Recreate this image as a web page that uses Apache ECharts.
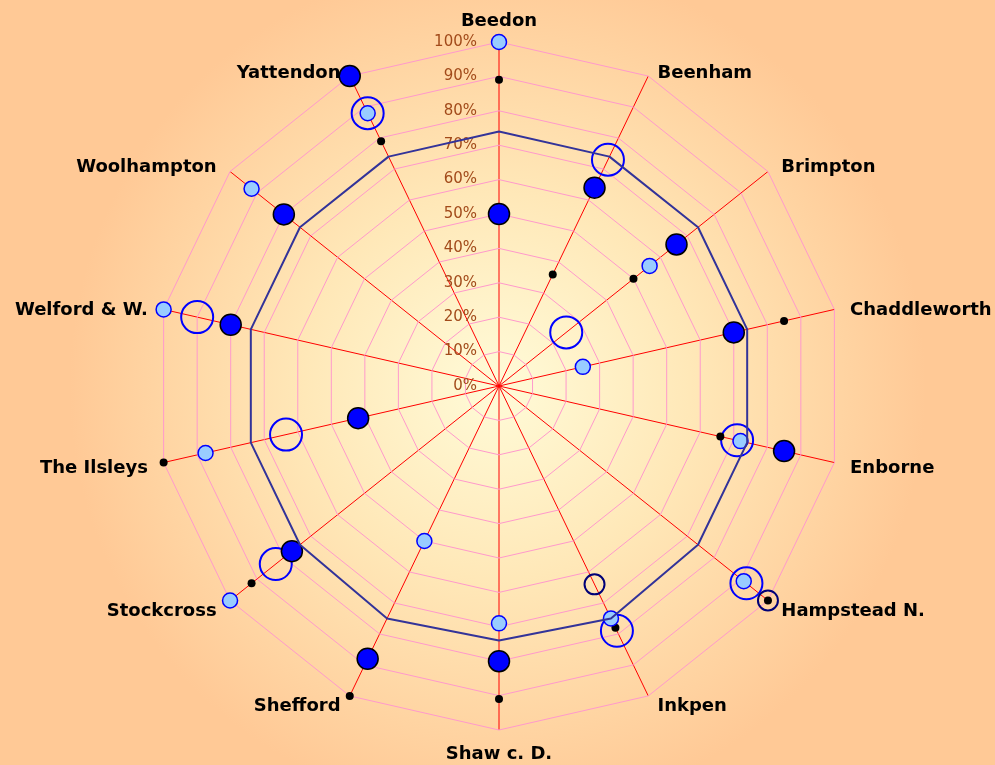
<!DOCTYPE html>
<html>
<head>
<meta charset="utf-8">
<script src="https://cdn.jsdelivr.net/npm/echarts@6/dist/echarts.min.js"></script>
<style>
  html, body { margin: 0; padding: 0; }
  #chart { width: 995px; height: 765px; }
</style>
</head>
<body>
<div id="chart"></div>
<script>
// 轴名称（顺时针，从顶部开始）
const wards = ['Beedon', 'Beenham', 'Brimpton', 'Chaddleworth', 'Enborne', 'Hampstead N.', 'Inkpen',
  'Shaw c. D.', 'Shefford', 'Stockcross', 'The Ilsleys', 'Welford & W.', 'Woolhampton', 'Yattendon']

// 各系列数值（百分比），null = 无点
const bigBlue   = [50, 64, 66, 70, 85, null, null, 80, 88, 77, 42, 80, 80, 100]
const lightBlue = [100, null, 56, 25, 72, 91, 75, 69, 50, 100, 87.5, 100, 92, 88]
const blackDot  = [89, 36, 50, 85, 66, 100, 78, 91, 100, 92, 100, null, null, 79]
const ringBlue  = [null, 73, 25, null, 71, 92, 79, null, null, 83, 63.5, 90, null, 88]
const ringNavy  = [null, null, null, null, null, 100, 64, null, null, null, null, null, null, null]
const average   = [74, 74, 74, 74, 74, 74, 75, 74, 75, 74, 74, 74, 74, 74]

const CENTER = [499, 386]
const RADIUS = 344

// 极坐标散点数据：[半径, 角度索引]
const toPolar = (arr) => arr
  .map((v, i) => (v == null ? null : [v, i]))
  .filter((d) => d !== null)

// ECharts 雷达图按逆时针排列，所以反转顺序
const radarOrder = [0].concat(wards.map((_, i) => i).slice(1).reverse())
const indicators = radarOrder.map((i) => {
  const ind = { name: wards[i], min: 0, max: 100 }
  if (i === 0) {
    ind.axisLabel = {
      show: true,
      margin: 22,
      color: '#a24a1a',
      fontSize: 15,
      formatter: '{value}%'
    }
  }
  return ind
})

// 名称标签的微调样式
const nameStyle = (pad) => ({
  color: '#000', fontWeight: 'bold', fontSize: 18, padding: pad
})
const nameClass = (name) => {
  const i = wards.indexOf(name)
  if (i === 1 || i === 13) return 'hi'
  if (i === 0) return 'top'
  if (i === 7) return 'bot'
  if (i === 6 || i === 8) return 'lo'
  return 'n'
}

const closedLine = toPolar(average).concat([[average[0], wards.length]])

const dotStyle = (fill, border, bw) => ({ color: fill, borderColor: border, borderWidth: bw, opacity: 1 })

const chart = echarts.init(document.getElementById('chart'))

chart.setOption({
  animation: false,
  textStyle: { fontFamily: 'DejaVu Sans' },
  backgroundColor: new echarts.graphic.RadialGradient(0.5, 0.505, 0.56, [
    { offset: 0, color: '#fffbd8' },
    { offset: 0.45, color: '#ffe8b8' },
    { offset: 1, color: '#ffc996' }
  ]),
  radar: {
    center: CENTER,
    radius: RADIUS,
    startAngle: 90,
    splitNumber: 10,
    shape: 'polygon',
    indicator: indicators,
    axisNameGap: 12,
    axisName: {
      formatter: (name) => '{' + nameClass(name) + '|' + name + '}',
      rich: {
        top: nameStyle([0, 0, 0, 0]),
        bot: nameStyle([3, 0, 0, 0]),
        hi: nameStyle([16, 4, 0, 4]),
        lo: nameStyle([0, 4, 0, 4]),
        n: nameStyle([7, 4, 0, 4])
      }
    },
    axisLine: { show: false },
    splitLine: { lineStyle: { color: '#ff99cc', width: 1 } },
    splitArea: { show: false },
    axisTick: { show: false },
    axisLabel: { show: false }
  },
  polar: { center: CENTER, radius: RADIUS },
  // 红色辐射线用极坐标角度轴的分隔线绘制
  angleAxis: {
    type: 'value', min: 0, max: wards.length, interval: 1, startAngle: 90, clockwise: true,
    axisLine: { show: false }, axisTick: { show: false }, axisLabel: { show: false },
    splitLine: { show: true, lineStyle: { color: '#ff0000', width: 1 } }
  },
  radiusAxis: { show: false, type: 'value', min: 0, max: 100 },
  series: [
    {
      type: 'line', coordinateSystem: 'polar', data: closedLine,
      symbol: 'none', lineStyle: { color: '#333399', width: 2 }
    },
    {
      type: 'scatter', coordinateSystem: 'polar', data: toPolar(ringBlue),
      symbolSize: 32, itemStyle: dotStyle('rgba(0,0,0,0)', '#0000ff', 2)
    },
    {
      type: 'scatter', coordinateSystem: 'polar', data: toPolar(ringNavy),
      symbolSize: 20, itemStyle: dotStyle('rgba(0,0,0,0)', '#000077', 2)
    },
    {
      type: 'scatter', coordinateSystem: 'polar', data: toPolar(blackDot),
      symbolSize: 8, itemStyle: dotStyle('#000000', '#000000', 0)
    },
    {
      type: 'scatter', coordinateSystem: 'polar', data: toPolar(lightBlue),
      symbolSize: 15, itemStyle: dotStyle('#99ccff', '#0000ff', 1.5)
    },
    {
      type: 'scatter', coordinateSystem: 'polar', data: toPolar(bigBlue),
      symbolSize: 21, itemStyle: dotStyle('#0000ff', '#000000', 1.5)
    }
  ]
})
</script>
</body>
</html>
